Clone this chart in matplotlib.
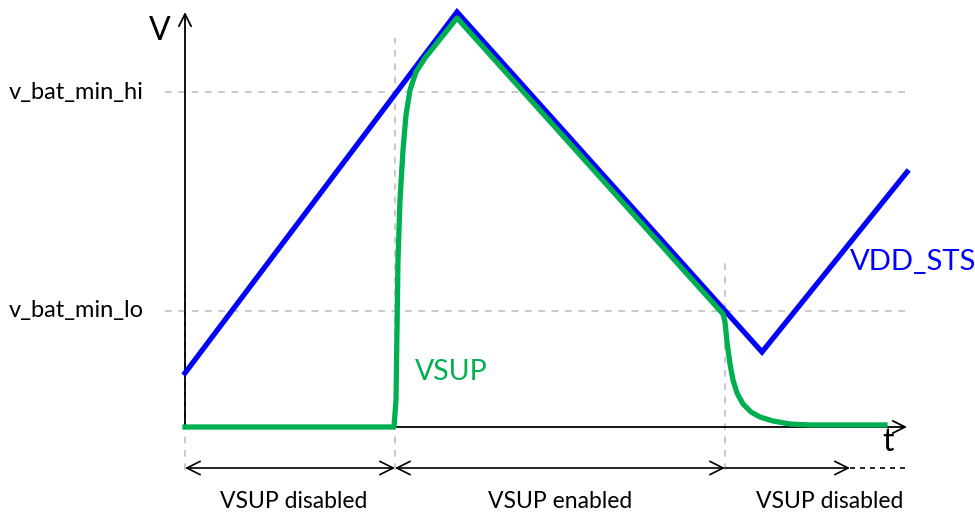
import matplotlib
matplotlib.use('Agg')
import matplotlib.pyplot as plt

plt.rcParams['font.family'] = ['Lato', 'DejaVu Sans']

# levels on the V axis
v_hi = 335
v_lo = 116

# VDD_STS trace
vdd_t = [0, 272, 577, 722]
vdd_v = [54, 415, 75, 255]

# VSUP trace
vsup_t = [0, 209, 211, 212, 213, 215, 218, 221, 225, 231, 240, 272,
          538, 540, 542, 545, 548, 552, 558, 566, 575, 588, 605, 625, 700]
vsup_v = [0, 0, 27, 97, 167, 227, 277, 312, 337, 355, 369, 409,
          113, 105, 85, 63, 47, 34, 23, 15, 10, 6, 3, 2, 2]

# phase boundaries on t
phases = [0, 210, 540, 720]
phase_labels = ['VSUP disabled', 'VSUP enabled', 'VSUP disabled']

fig = plt.figure(figsize=(9.75, 5.13), dpi=100)
ax = fig.add_axes([0, 0, 1, 1])
ax.set_xlim(-185, 790)
ax.set_ylim(-86, 427)
ax.axis('off')

grey = '#c0c0c0'

# horizontal reference lines
for lvl, name in [(v_hi, 'v_bat_min_hi'), (v_lo, 'v_bat_min_lo')]:
    ax.plot([-20, 720], [lvl, lvl], ls=(0, (4, 4)), color=grey, lw=1.2)
    ax.text(-176, lvl, name, ha='left', va='center', fontsize=17)

# vertical phase markers
ax.plot([0, 0], [0, 142], ls=(0, (3, 3)), color='#555555', lw=1.2)
ax.plot([0, 0], [-43, 0], ls=(0, (4, 4)), color=grey, lw=1.2)
ax.plot([phases[1], phases[1]], [-43, 389], ls=(0, (4, 4)), color=grey, lw=1.2)
ax.plot([phases[2], phases[2]], [-43, 165], ls=(0, (4, 4)), color=grey, lw=1.2)

# axes with arrows
ax.annotate('', xy=(0, 415), xytext=(0, 0),
            arrowprops=dict(arrowstyle='->', lw=1.3, color='black',
                            mutation_scale=22, shrinkA=0, shrinkB=0))
ax.annotate('', xy=(722, 0), xytext=(phases[1], 0),
            arrowprops=dict(arrowstyle='->', lw=1.3, color='black',
                            mutation_scale=22, shrinkA=0, shrinkB=0))
ax.text(-25, 396, 'V', fontsize=23, ha='center', va='center')
ax.text(703, -15, 't', fontsize=23, ha='center', va='center')

# traces
ax.plot(vdd_t, vdd_v, color='#0000ff', lw=3.8, solid_joinstyle='miter', zorder=3)
ax.plot(vsup_t, vsup_v, color='#00b050', lw=3.8, zorder=4)
ax.text(665, 165, 'VDD_STS', color='#0000ff', fontsize=21, ha='left', va='center')
ax.text(230, 55, 'VSUP', color='#00b050', fontsize=20.5, ha='left', va='center')

# phase arrows and labels
ya = -41
for i in range(2):
    ax.annotate('', xy=(phases[i], ya), xytext=(phases[i + 1], ya),
                arrowprops=dict(arrowstyle='<->', lw=1.2, color='black',
                                mutation_scale=24, shrinkA=0, shrinkB=0))
ax.annotate('', xy=(phases[2], ya), xytext=(665, ya),
            arrowprops=dict(arrowstyle='<-', lw=1.2, color='black',
                            mutation_scale=24, shrinkA=0, shrinkB=0))
ax.plot([665, 720], [ya, ya], ls=(0, (3, 3)), color='black', lw=1.2)

centers = [(phases[0] + phases[1]) / 2 + 4, (phases[1] + phases[2]) / 2, 645]
for c, lab in zip(centers, phase_labels):
    ax.text(c, -74, lab, ha='center', va='center', fontsize=16.5)

fig.savefig('out.png', dpi=100)
